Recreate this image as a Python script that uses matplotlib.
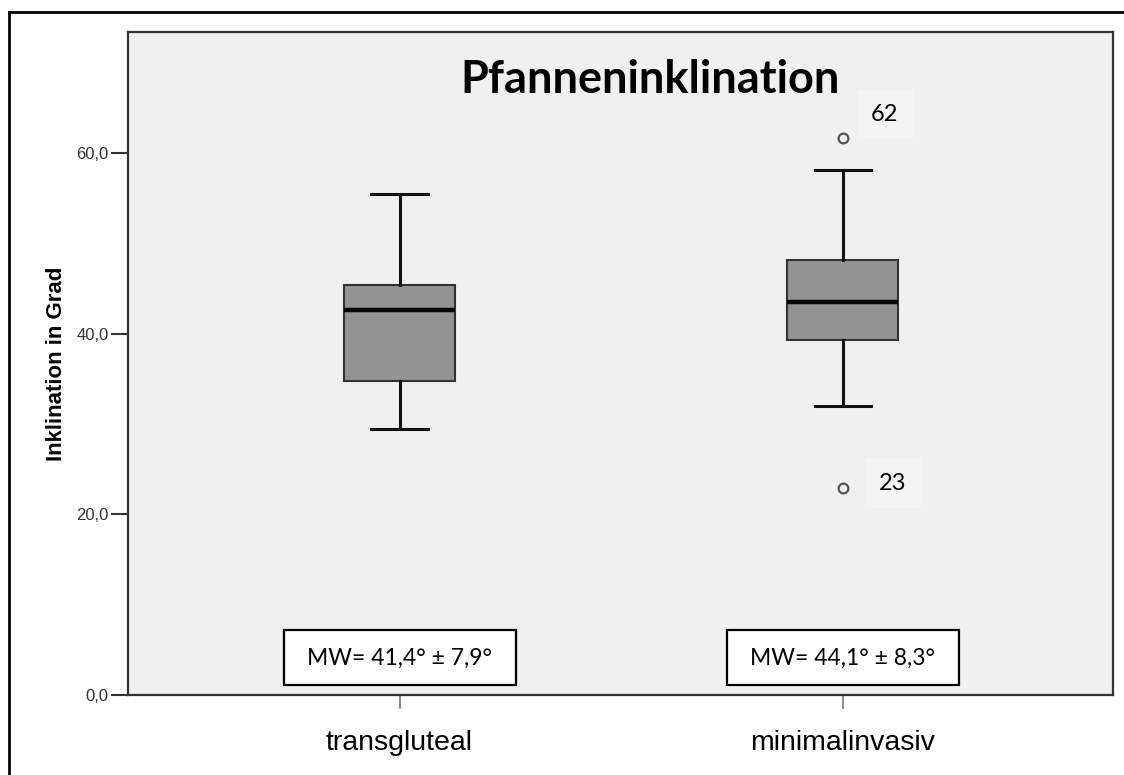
import matplotlib
matplotlib.use("Agg")
import matplotlib.pyplot as plt
from matplotlib.patches import Rectangle
from matplotlib.lines import Line2D
from matplotlib.ticker import FuncFormatter

# data
categories = ['transgluteal', 'minimalinvasiv']
q1 = [34.8, 39.3]
medians = [42.6, 43.5]
q3 = [45.4, 48.2]
whis_lo = [29.5, 32.0]
whis_hi = [55.5, 58.1]
outliers = [[], [61.7, 22.9]]
outlier_ids = [[], ['62', '23']]
mean_sd = ['MW= 41,4° ± 7,9°', 'MW= 44,1° ± 8,3°']

fig = plt.figure(figsize=(11.24, 7.75), dpi=100)
fig.patch.set_facecolor('white')
ax = fig.add_axes([128 / 1124, 80 / 775, 985 / 1124, 663 / 775])
ax.set_facecolor('#f0f0f0')

stats = []
for i in range(len(categories)):
    stats.append(dict(med=medians[i], q1=q1[i], q3=q3[i],
                      whislo=whis_lo[i], whishi=whis_hi[i],
                      fliers=outliers[i], label=categories[i]))

pos = [1, 2]
ax.bxp(stats, positions=pos, widths=0.25, patch_artist=True,
       boxprops=dict(facecolor='#939393', edgecolor='#333333', linewidth=1.5),
       medianprops=dict(color='black', linewidth=3.2),
       whiskerprops=dict(color='#111111', linewidth=2.2),
       capprops=dict(color='#111111', linewidth=2.2),
       capwidths=0.127,
       flierprops=dict(marker='o', markersize=7, markerfacecolor='none',
                       markeredgecolor='#555555', markeredgewidth=1.6))

# outlier case numbers
offsets = [(42, 23), (50, 5)]
for i in range(len(categories)):
    for j, (val, lab) in enumerate(zip(outliers[i], outlier_ids[i])):
        ax.annotate(lab, (pos[i], val), xytext=offsets[j], textcoords='offset pixels',
                    ha='center', va='center', fontsize=17, family='Lato',
                    bbox=dict(boxstyle='square,pad=0.6', facecolor='#f4f4f4', edgecolor='none'))

# mean +- sd boxes
for i, txt in enumerate(mean_sd):
    ax.add_patch(Rectangle((pos[i] - 0.262, 1.1), 0.524, 6.1, facecolor='white',
                           edgecolor='black', linewidth=1.6, zorder=3))
    ax.text(pos[i], 4.1, txt, ha='center', va='center', fontsize=16.5,
            family='Lato', zorder=4)

ax.set_xlim(0.387, 2.61)
ax.set_ylim(0, 73.4)
ax.set_yticks([0, 20, 40, 60])
ax.yaxis.set_major_formatter(FuncFormatter(lambda v, p: f'{v:.1f}'.replace('.', ',')))
ax.set_xticks(pos)
ax.set_xticklabels(categories, fontsize=20.5, family='Liberation Sans')
ax.tick_params(axis='y', length=12, width=1.5, color='#333333', labelsize=12,
               labelcolor='#333333', pad=2)
ax.tick_params(axis='x', length=10, width=1.2, color='#777777', pad=15)
for lab in ax.get_yticklabels():
    lab.set_family('Liberation Sans')
for s in ax.spines.values():
    s.set_color('#333333')
    s.set_linewidth(1.6)

ax.set_ylabel('Inklination in Grad', fontsize=16, fontweight='bold',
              family=['Liberation Sans Narrow', 'Liberation Sans'])
ax.yaxis.set_label_coords(-0.062, 0.5)

fig.text(650 / 1124, 1 - 93 / 775, 'Pfanneninklination', ha='center', va='baseline',
         fontsize=32.5, fontweight='bold', family='Lato')

# outer frame (top and left edges only)
fig.add_artist(Line2D([9 / 1124, 1.0], [1 - 12 / 775, 1 - 12 / 775],
                      color='black', linewidth=2, transform=fig.transFigure))
fig.add_artist(Line2D([9 / 1124, 9 / 1124], [0, 1 - 12 / 775],
                      color='black', linewidth=2, transform=fig.transFigure))

fig.savefig('out.png', dpi=100)
